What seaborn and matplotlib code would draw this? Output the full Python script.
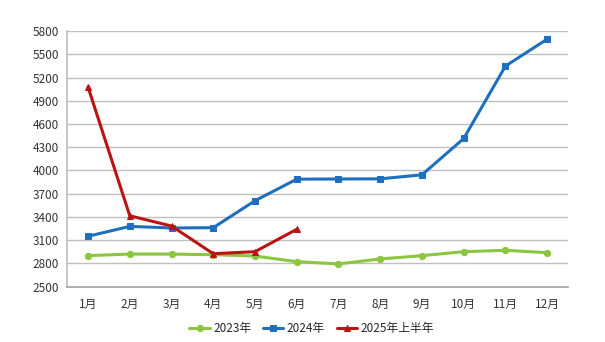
import matplotlib
matplotlib.use("Agg")
import matplotlib.pyplot as plt
import seaborn as sns
import pandas as pd
import numpy as np

months = ["1月", "2月", "3月", "4月", "5月", "6月", "7月", "8月", "9月", "10月", "11月", "12月"]
v2023 = [2900, 2920, 2920, 2912, 2895, 2822, 2793, 2857, 2900, 2951, 2969, 2938]
v2024 = [3150, 3278, 3257, 3261, 3609, 3888, 3890, 3892, 3944, 4413, 5349, 5697]
v2025 = [5078, 3415, 3282, 2925, 2951, 3240]
series_names = ["2023年", "2024年", "2025年上半年"]
yticks = [2500, 2800, 3100, 3400, 3700, 4000, 4300, 4600, 4900, 5200, 5500, 5800]

sns.set_theme(style="white")
plt.rcParams['font.family'] = ['Noto Sans CJK SC', 'DejaVu Sans']

rows = []
for name, vals in zip(series_names, [v2023, v2024, v2025]):
    for i, v in enumerate(vals):
        rows.append({"月份": i, "值": v, "系列": name})
df = pd.DataFrame(rows)

fig = plt.figure(figsize=(6.05, 3.42), dpi=100)
ax = fig.add_axes([0.111, 0.162, 0.828, 0.747])

palette = {"2023年": "#8CC63F", "2024年": "#1F6FBF", "2025年上半年": "#B81414"}
markers = {"2023年": "o", "2024年": "s", "2025年上半年": "^"}
sizes = {"2023年": 4.5, "2024年": 5, "2025年上半年": 4}
for name in series_names:
    sub = df[df["系列"] == name]
    sns.lineplot(data=sub, x="月份", y="值", ax=ax, color=palette[name], marker=markers[name],
                 markersize=sizes[name], markeredgecolor=palette[name], linewidth=2.2,
                 label=name, legend=False)

ax.set_xlim(-0.5, 11.5)
ax.set_ylim(2500, 5800)
ax.set_yticks(yticks)
ax.set_yticklabels([str(t) for t in yticks], fontsize=8.5, color="#333333")
ax.set_xticks(range(12))
ax.set_xticklabels(months, fontsize=8.5, color="#333333")
ax.set_xticks(np.arange(-0.5, 12.0, 1.0), minor=True)
ax.tick_params(axis="x", which="major", length=0, pad=8)
ax.tick_params(axis="x", which="minor", length=4, color="#A6A6A6", direction="out")
ax.tick_params(axis="y", length=0, pad=6)
ax.grid(axis="y", color="#BFBFBF", linewidth=1)
ax.set_axisbelow(True)
for s in ["top", "right"]:
    ax.spines[s].set_visible(False)
ax.spines["left"].set_color("#BFBFBF")
ax.spines["bottom"].set_color("#A6A6A6")
ax.set_xlabel("")
ax.set_ylabel("")

handles, labels = ax.get_legend_handles_labels()
fig.legend(handles, labels, loc="center", bbox_to_anchor=(0.515, 0.04), ncol=3, frameon=False,
           fontsize=8.5, handlelength=1.7, columnspacing=1.0, handletextpad=0.3)

fig.savefig("out.png", dpi=100)
